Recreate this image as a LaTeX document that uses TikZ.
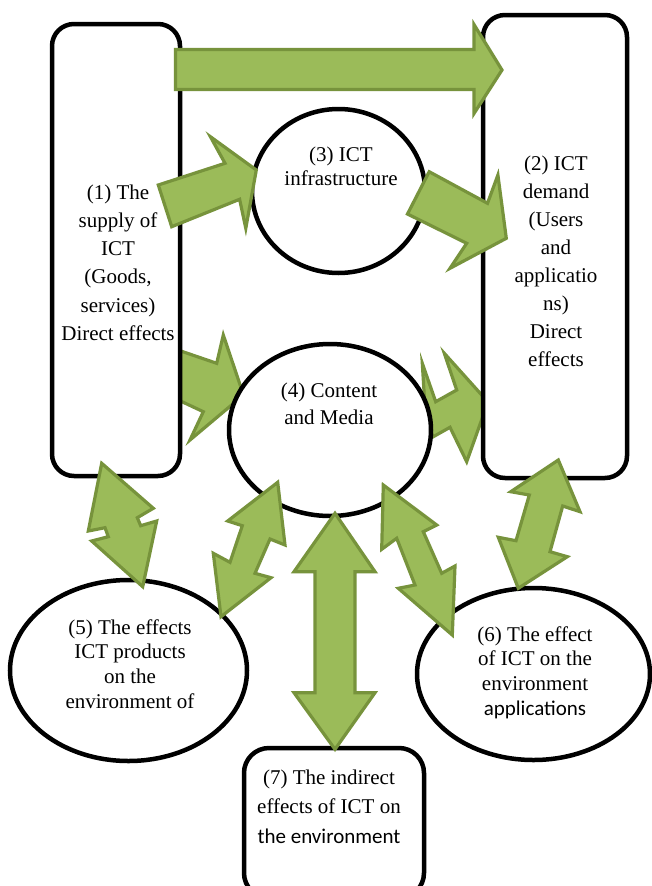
\documentclass[tikz,border=0pt]{standalone}
\usepackage{fontspec}
\setmainfont{Liberation Serif}
\newfontfamily\calibri{Carlito}
\usetikzlibrary{shapes.geometric}
\definecolor{arrfill}{HTML}{9BBB59}
\definecolor{arrline}{HTML}{77933C}
\begin{document}
\begin{tikzpicture}[x=1pt,y=-1pt,
  shapebox/.style={draw=black, line width=4.5pt, fill=white, rectangle, rounded corners=22pt, inner sep=0pt},
  shapeell/.style={draw=black, line width=4.5pt, fill=white, ellipse, inner sep=0pt},
  blockarr/.style={fill=arrfill, draw=arrline, line width=3.2pt, line join=miter},
  lbl/.style={anchor=north, align=center, inner sep=0pt, text=black}]
\useasboundingbox (0,0) rectangle (651,886);

% arrows lying behind the shapes
\draw[blockarr] (172,348) -- (216.7,363.3) -- (223.3,335) -- (243.5,395) -- (190,440) -- (203.3,411.7) -- (172,397) -- cycle;
\draw[blockarr] (422.3,363.3) -- (435.7,401.7) -- (456.7,390) -- (444.3,353.3) -- (488,402) -- (466.7,461.7) -- (450,427.3) -- (433.3,436.7) -- (426,424) -- cycle;

% shapes
\node[shapebox, minimum width=128pt, minimum height=452pt] (supply) at (116,250) {};
\node[shapebox, minimum width=144pt, minimum height=463pt] (demand) at (555,246.5) {};
\node[shapebox, rounded corners=25pt, minimum width=180pt, minimum height=150pt] (indirect) at (334,823) {};
\node[shapeell, minimum width=173pt, minimum height=164pt] (infra) at (338.5,191) {};
\node[shapeell, minimum width=202pt, minimum height=172pt] (content) at (330,430) {};
\node[shapeell, minimum width=237pt, minimum height=181pt] (prod) at (128.5,670.5) {};
\node[shapeell, minimum width=233pt, minimum height=172pt] (appl) at (533.5,674) {};

% arrows lying over the shapes
\draw[blockarr] (175.5,49.5) -- (474,49.5) -- (474,24.5) -- (502,70) -- (474,113.5) -- (474,89.5) -- (175.5,89.5) -- cycle;
\draw[blockarr] (158.3,185) -- (225,163.3) -- (210.4,136.7) -- (256.3,170) -- (245.8,228.3) -- (239.6,199.3) -- (171.7,226.7) -- cycle;
\draw[blockarr] (429.2,171.7) -- (487.5,203.3) -- (497.9,175) -- (506.3,238.3) -- (450,268.3) -- (466.7,243.3) -- (407.5,214) -- cycle;
\draw[blockarr] (101.7,463.3) -- (153.3,508.3) -- (137.3,517.7) -- (140.7,525.7) -- (156.7,521) -- (142.7,586.7) -- (91.7,541) -- (108.3,536.7) -- (105,527.7) -- (88.3,531) -- cycle;
\draw[blockarr] (277.7,482.3) -- (285,545) -- (270,539) -- (255,573.3) -- (271,577.7) -- (221,616.7) -- (213.3,553.3) -- (230,562.3) -- (242.3,525.7) -- (227.7,521) -- cycle;
\draw[blockarr] (335,513.3) -- (375,571.7) -- (355,571.7) -- (355,692.7) -- (375,692.7) -- (335,749.3) -- (294,692.7) -- (315,692.7) -- (315,571.7) -- (294,571.7) -- cycle;
\draw[blockarr] (383.3,485) -- (436.7,525) -- (423.3,531.7) -- (441.7,573.3) -- (455,566) -- (452.3,635) -- (398.3,588.3) -- (415,585) -- (396.7,538.3) -- (381.7,549.3) -- cycle;
\draw[blockarr] (558.3,460) -- (580,511.7) -- (562.7,506) -- (550,551.7) -- (567.3,556.7) -- (518.3,588.3) -- (498.3,537.3) -- (516,540.7) -- (529.3,495) -- (510.7,491.7) -- cycle;

% texts
\node[lbl, font=\fontsize{21}{28.2}\selectfont] (t1) at (118,182) {\rule{0pt}{17pt}(1) The\\supply of\\ICT\\(Goods,\\services)\\Direct effects};
\node[lbl, font=\fontsize{21}{28.1}\selectfont] (t2) at (556,153) {\rule{0pt}{17pt}(2) ICT\\demand\\(Users\\and\\applicatio\\ns)\\Direct\\effects};
\node[lbl, font=\fontsize{21}{23.5}\selectfont] (t3) at (341,144.5) {\rule{0pt}{17pt}(3) ICT\\infrastructure};
\node[lbl, font=\fontsize{21}{27}\selectfont] (t4) at (329,380) {\rule{0pt}{17pt}(4) Content\\and Media};
\node[lbl, font=\fontsize{21}{24.7}\selectfont] (t5) at (130,617) {\rule{0pt}{17pt}(5) The effects\\ICT products\\on the\\environment of};
\node[lbl, font=\fontsize{21}{24.7}\selectfont] (t6) at (535,624) {\rule{0pt}{17pt}(6) The effect\\of ICT on the\\environment\\{\calibri applications}};
\node[lbl, font=\fontsize{21}{29.5}\selectfont] (t7) at (329,767) {\rule{0pt}{17pt}(7) The indirect\\effects of ICT on\\{\calibri the environment}};
\end{tikzpicture}
\end{document}
